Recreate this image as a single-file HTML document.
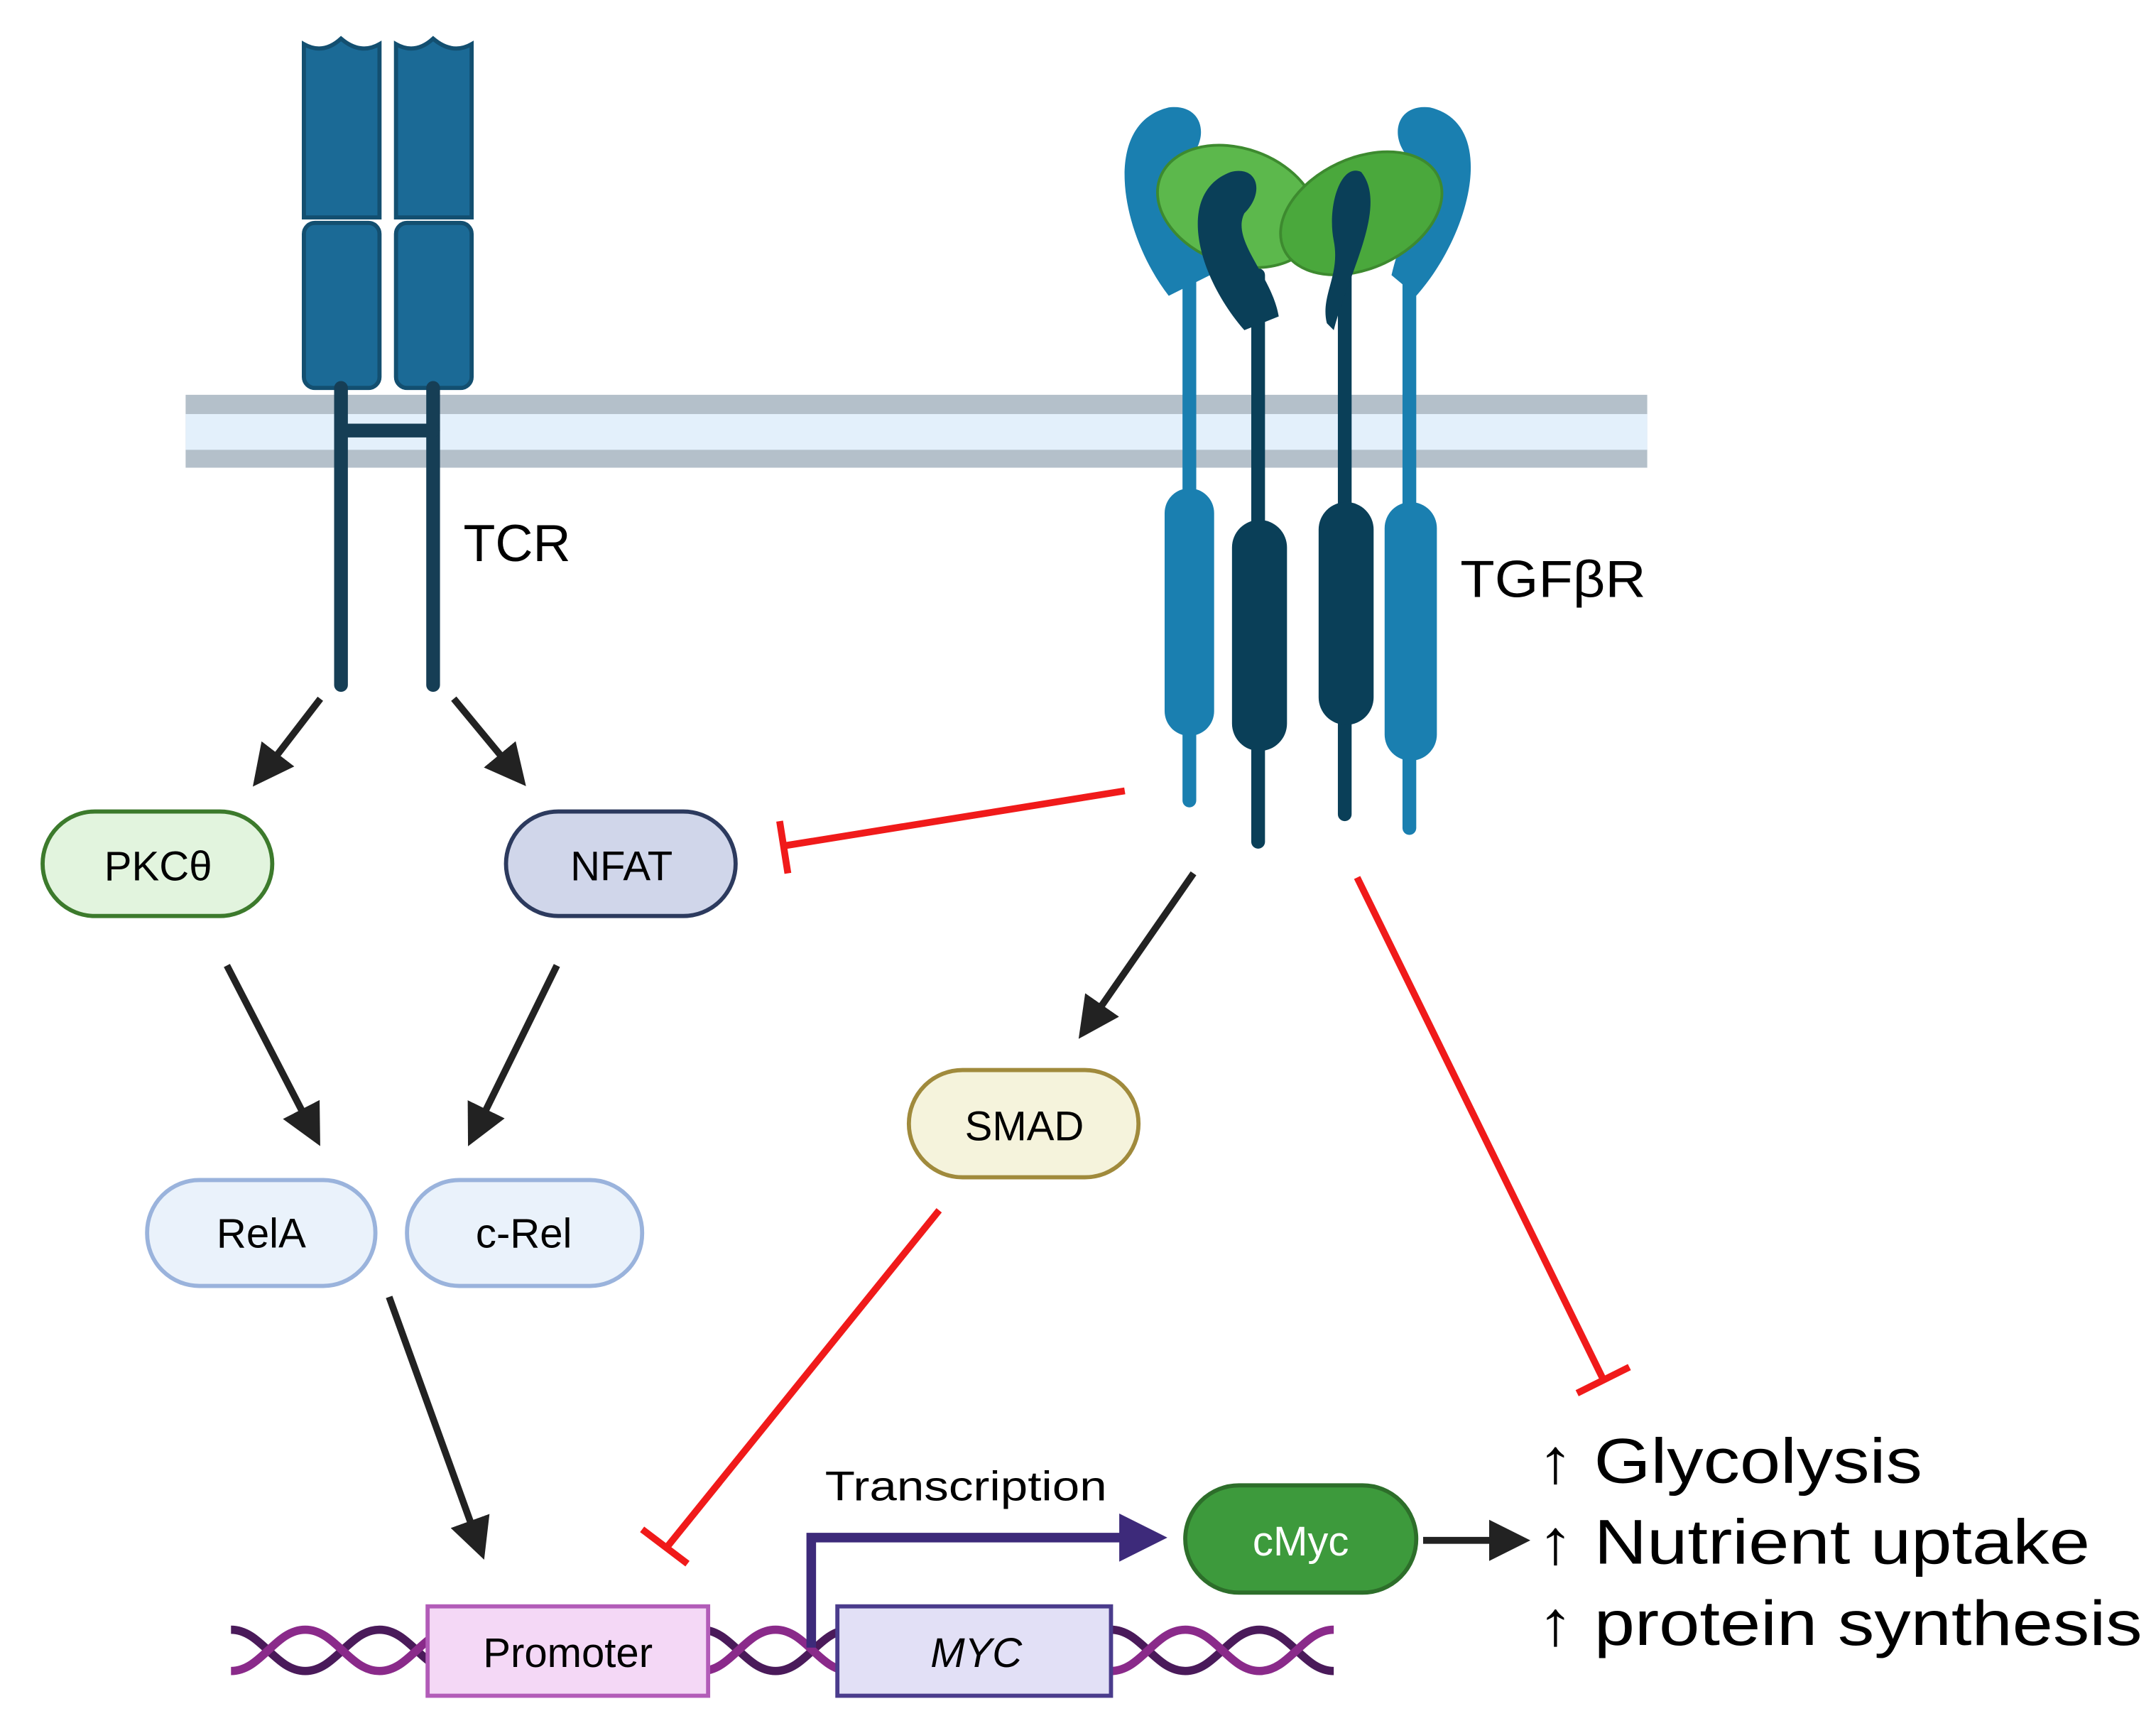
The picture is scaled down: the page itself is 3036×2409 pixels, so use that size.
<!DOCTYPE html>
<html><head><meta charset="utf-8"><style>
html,body{margin:0;padding:0;background:#fff}
svg{display:block}
text{font-family:"Liberation Sans",sans-serif}
</style></head><body>
<svg width="3036" height="2409" viewBox="0 0 1568 1244" xmlns="http://www.w3.org/2000/svg">
<defs>
<marker id="ah" markerWidth="6" markerHeight="6" refX="3" refY="3" orient="auto" markerUnits="strokeWidth">
<path d="M0,0 L6,3 L0,6 z" fill="#222"/></marker>
<marker id="ahp" markerWidth="5" markerHeight="5" refX="2" refY="2.5" orient="auto" markerUnits="strokeWidth">
<path d="M0,0 L5,2.5 L0,5 z" fill="#3d2a7a"/></marker>
</defs>
<rect width="1568" height="1244" fill="#fff"/>
<rect x="135" y="287" width="1063" height="53" fill="#b4c0ca"/>
<rect x="135" y="301" width="1063" height="26" fill="#e3f0fb"/>
<g fill="#1b6a96" stroke="#134f70" stroke-width="3">
<path d="M221,32 Q235,40 248,28 Q262,40 276,32 V158 H221 Z"/>
<rect x="221" y="162" width="55" height="120" rx="8"/>
<path d="M288,32 Q302,40 315,28 Q329,40 343,32 V158 H288 Z"/>
<rect x="288" y="162" width="55" height="120" rx="8"/>
</g>
<g stroke="#163e55" stroke-width="10" stroke-linecap="round">
<line x1="248" y1="282" x2="248" y2="498"/><line x1="315" y1="282" x2="315" y2="498"/>
<line x1="248" y1="313" x2="315" y2="313"/></g>
<text x="337" y="408" font-size="38">TCR</text>
<g stroke-linecap="round">
<line x1="865" y1="200" x2="865" y2="582" stroke="#1a7fb0" stroke-width="10"/>
<line x1="1025" y1="200" x2="1025" y2="602" stroke="#1a7fb0" stroke-width="10"/>
<line x1="915" y1="200" x2="915" y2="612" stroke="#0a3f58" stroke-width="10"/>
<line x1="978" y1="200" x2="978" y2="592" stroke="#0a3f58" stroke-width="10"/>
</g>
<rect x="847" y="355" width="36" height="180" rx="18" fill="#1a7fb0"/>
<rect x="1007" y="365" width="38" height="188" rx="19" fill="#1a7fb0"/>
<rect x="896" y="378" width="40" height="168" rx="20" fill="#0a3f58"/>
<rect x="959" y="365" width="40" height="162" rx="20" fill="#0a3f58"/>
<path d="M850,215 C815,170 800,90 850,78 C875,75 880,100 865,115 C850,135 870,165 880,200 Z" fill="#1a7fb0"/>
<path d="M1030,215 C1070,170 1090,90 1040,78 C1015,75 1010,100 1025,115 C1040,135 1020,165 1012,200 Z" fill="#1a7fb0"/>
<ellipse cx="900" cy="150" rx="60" ry="42" fill="#5cb84c" stroke="#3d8a2f" stroke-width="2" transform="rotate(20 900 150)"/>
<ellipse cx="990" cy="155" rx="62" ry="40" fill="#4aa83c" stroke="#3d8a2f" stroke-width="2" transform="rotate(-25 990 155)"/>
<path d="M905,240 C870,200 855,140 895,125 C915,120 920,140 905,155 C895,175 925,200 930,230 Z" fill="#0a3f58"/>
<path d="M970,240 C980,200 1010,150 990,125 C975,118 965,150 970,175 C975,200 960,215 965,235 Z" fill="#0a3f58"/>
<text x="1062" y="434" font-size="38" textLength="135" lengthAdjust="spacingAndGlyphs">TGFβR</text>
<g stroke="#222" stroke-width="5" fill="none" marker-end="url(#ah)">
<line x1="233" y1="508" x2="193" y2="560"/>
<line x1="330" y1="508" x2="373" y2="560"/>
<line x1="165" y1="702" x2="226" y2="820"/>
<line x1="405" y1="702" x2="347" y2="820"/>
<line x1="868" y1="635" x2="793" y2="743"/>
<line x1="283" y1="943" x2="347" y2="1120"/>
<line x1="1035" y1="1120" x2="1098" y2="1120"/>
</g>
<g stroke="#f01a1a" stroke-width="5" fill="none">
<line x1="818" y1="575" x2="570" y2="615"/><line x1="567" y1="597" x2="573" y2="635"/>
<line x1="987" y1="638" x2="1166" y2="1003"/><line x1="1147" y1="1013" x2="1185" y2="994"/>
<line x1="683" y1="880" x2="485" y2="1125"/><line x1="467" y1="1112" x2="500" y2="1137"/>
</g>
<rect x="31" y="590" width="167" height="76" rx="38" fill="#e2f4de" stroke="#3c7a2c" stroke-width="3"/>
<text x="115" y="640" font-size="30" text-anchor="middle">PKCθ</text>
<rect x="368" y="590" width="167" height="76" rx="38" fill="#d0d6ea" stroke="#2c3a5e" stroke-width="3"/>
<text x="452" y="640" font-size="30" text-anchor="middle">NFAT</text>
<rect x="107" y="858" width="166" height="77" rx="38" fill="#eaf2fb" stroke="#9ab3dc" stroke-width="3"/>
<text x="190" y="907" font-size="30" text-anchor="middle">RelA</text>
<rect x="296" y="858" width="171" height="77" rx="38" fill="#eaf2fb" stroke="#9ab3dc" stroke-width="3"/>
<text x="381" y="907" font-size="30" text-anchor="middle">c-Rel</text>
<rect x="661" y="778" width="167" height="78" rx="39" fill="#f5f3dc" stroke="#a08a3c" stroke-width="3"/>
<text x="745" y="829" font-size="30" text-anchor="middle">SMAD</text>
<rect x="862" y="1080" width="168" height="78" rx="39" fill="#3d9a3c" stroke="#2d6e2a" stroke-width="3"/>
<text x="946" y="1131" font-size="30" text-anchor="middle" fill="#fff">cMyc</text>
<g fill="none" stroke-width="6">
<path d="M168,1185 C190,1185 200,1215 222,1215 C244,1215 254,1185 276,1185 C298,1185 308,1215 330,1215 M510,1185 C532,1185 542,1215 564,1215 C586,1215 596,1185 618,1185 M808,1185 C830,1185 840,1215 862,1215 C884,1215 894,1185 916,1185 C938,1185 948,1215 970,1215" stroke="#4a1a5a"/>
<path d="M168,1215 C190,1215 200,1185 222,1185 C244,1185 254,1215 276,1215 C298,1215 308,1185 330,1185 M510,1215 C532,1215 542,1185 564,1185 C586,1185 596,1215 618,1215 M808,1215 C830,1215 840,1185 862,1185 C884,1185 894,1215 916,1215 C938,1215 948,1185 970,1185" stroke="#8a2a8a"/>
</g>
<rect x="311" y="1168" width="204" height="65" fill="#f4d8f6" stroke="#b25cb8" stroke-width="3"/>
<text x="413" y="1212" font-size="30" text-anchor="middle">Promoter</text>
<rect x="609" y="1168" width="199" height="65" fill="#e2e0f6" stroke="#4a3c8c" stroke-width="3"/>
<text x="710" y="1212" font-size="30" text-anchor="middle" font-style="italic">MYC</text>
<path d="M590,1198 V1118 H828" fill="none" stroke="#3d2a7a" stroke-width="7" marker-end="url(#ahp)"/>
<text x="600" y="1091" font-size="30" textLength="205" lengthAdjust="spacingAndGlyphs">Transcription</text>
<text x="1118" y="1078" font-size="46" textLength="280" lengthAdjust="spacingAndGlyphs">↑ Glycolysis</text>
<text x="1118" y="1137" font-size="46" textLength="402" lengthAdjust="spacingAndGlyphs">↑ Nutrient uptake</text>
<text x="1118" y="1196" font-size="46" textLength="440" lengthAdjust="spacingAndGlyphs">↑ protein synthesis</text>
</svg>
</body></html>
